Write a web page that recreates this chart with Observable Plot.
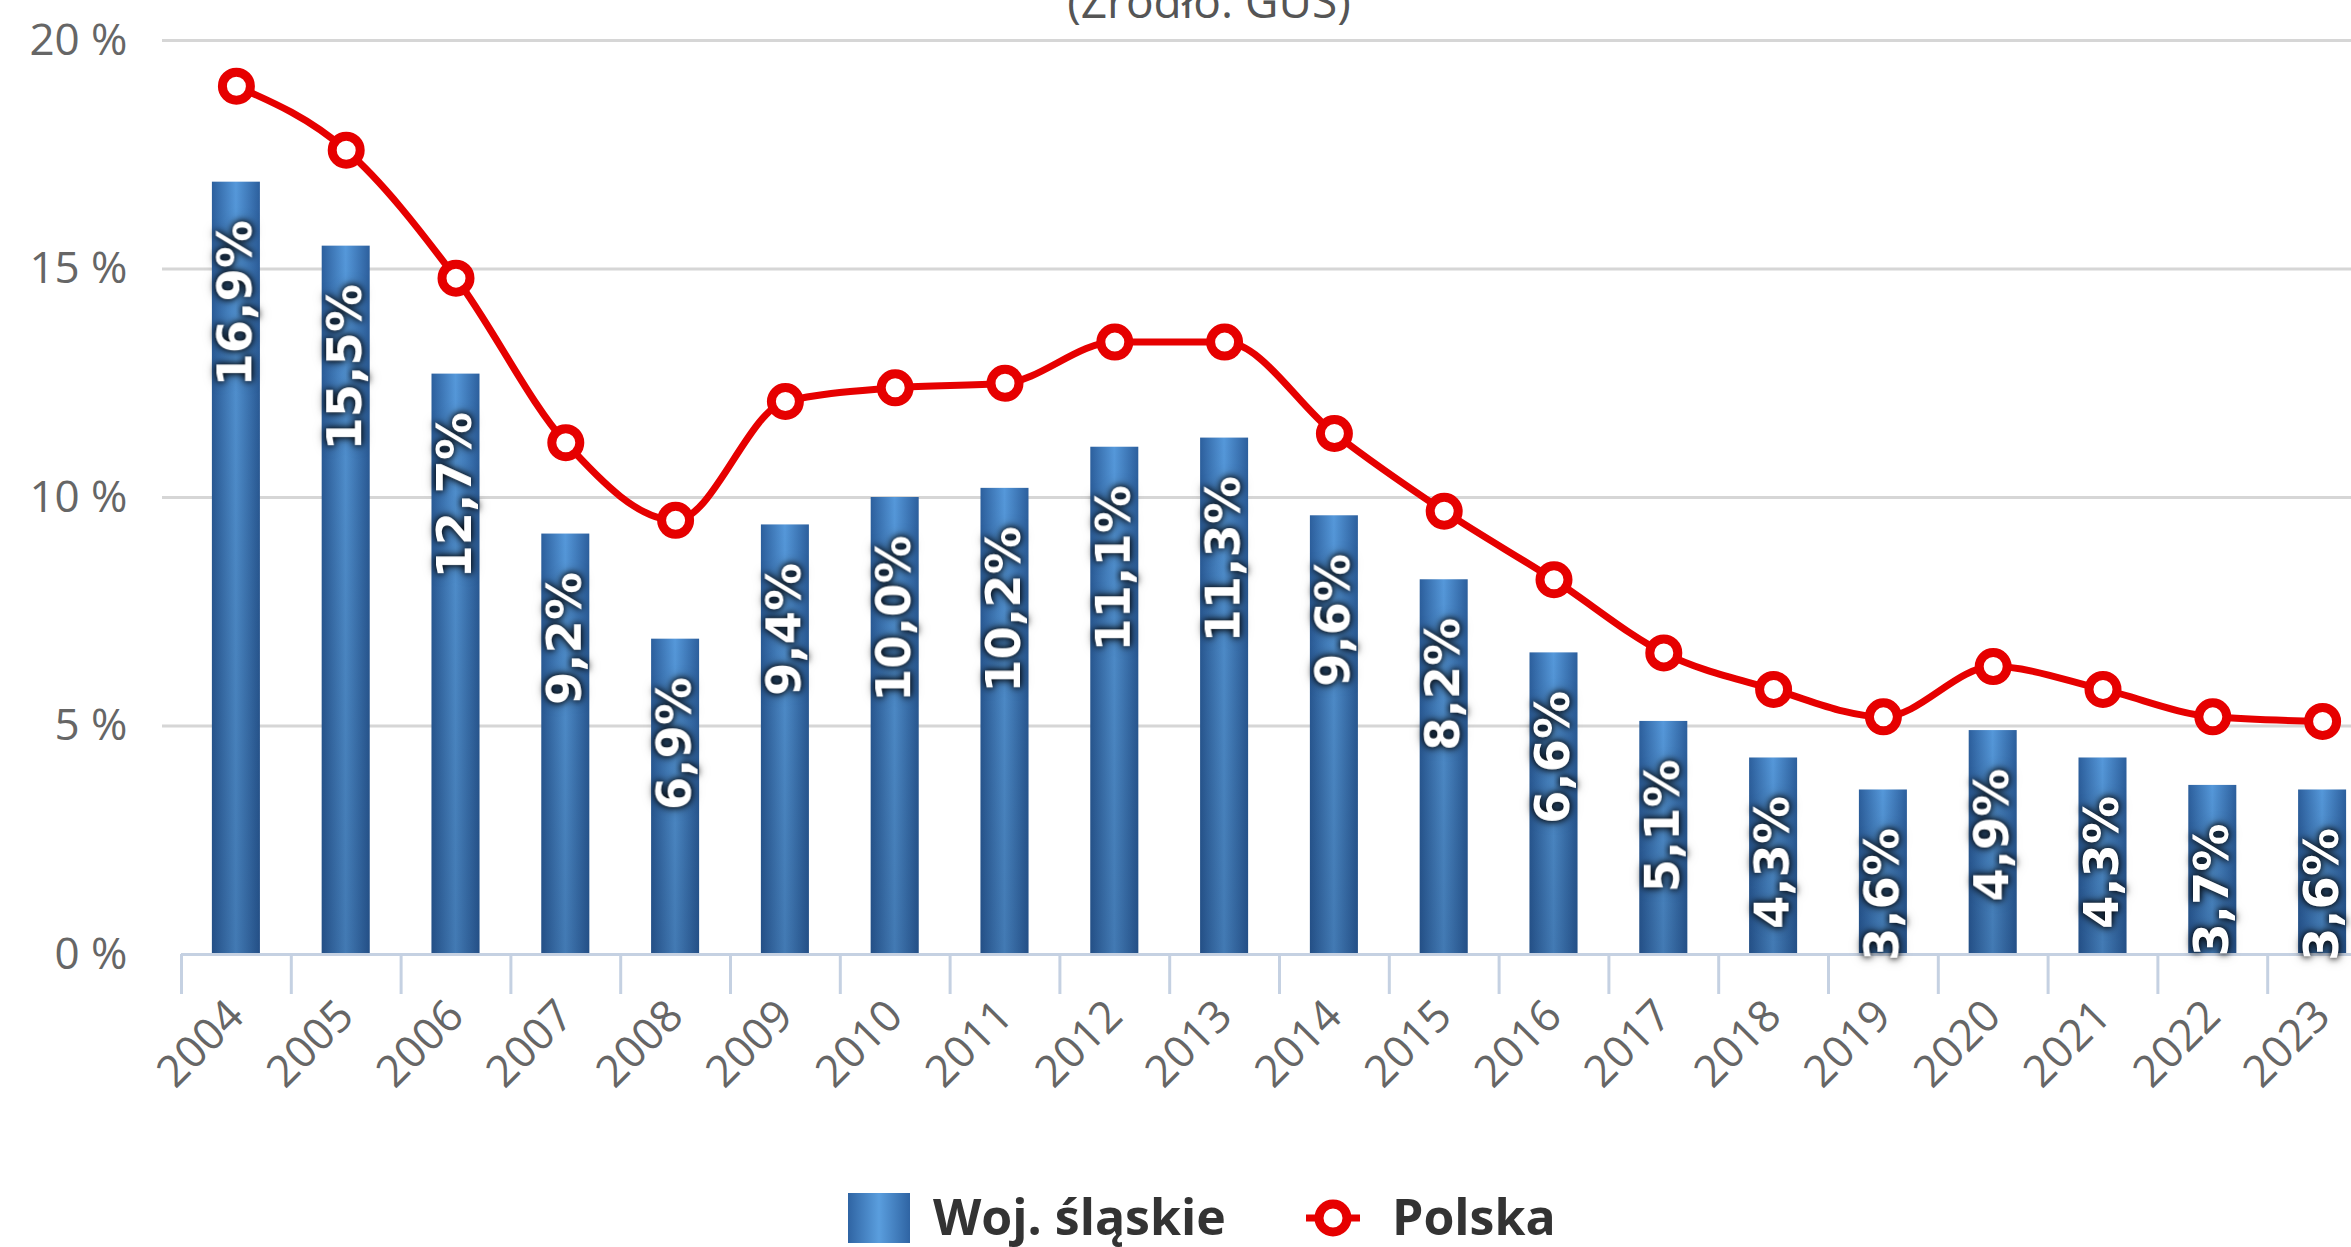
<!DOCTYPE html>
<html><head><meta charset="utf-8">
<script src="https://cdn.jsdelivr.net/npm/d3@7"></script>
<script src="https://cdn.jsdelivr.net/npm/@observablehq/plot@0.6"></script>
<style>
html,body{margin:0;padding:0;background:#fff;overflow:hidden;width:2351px;height:1247px;}
#wrap{position:relative;width:2351px;height:1247px;overflow:hidden;}
#sub{position:absolute;left:609px;width:1200px;top:-23px;text-align:center;font-family:"Open Sans",sans-serif;font-size:46px;line-height:46px;color:#555;}
#chart{position:absolute;left:0;top:0;width:2400px;}
.lg{position:absolute;font-family:"Open Sans",sans-serif;font-weight:bold;font-size:50px;line-height:50px;color:#333;}
#sq{position:absolute;left:848px;top:1193px;width:62px;height:50px;background:linear-gradient(90deg,#2f64a3 0%,#5a9ede 50%,#2f64a3 100%);}
</style></head>
<body><div id="wrap">
<div id="sub">(Źródło: GUS)</div>
<div id="chart"></div>
<div id="sq"></div>
<div class="lg" style="left:933px;top:1191px;">Woj. śląskie</div>
<svg style="position:absolute;left:1302px;top:1196px;" width="62" height="44"><line x1="4" y1="22" x2="58" y2="22" stroke="#e60000" stroke-width="7"/><circle cx="31" cy="22" r="14" fill="#fff" stroke="#e60000" stroke-width="9"/></svg>
<div class="lg" style="left:1392px;top:1191px;">Polska</div>
</div>
<script>
const years = ["2004","2005","2006","2007","2008","2009","2010","2011","2012","2013","2014","2015","2016","2017","2018","2019","2020","2021","2022","2023"];
const slaskie = [16.9, 15.5, 12.7, 9.2, 6.9, 9.4, 10.0, 10.2, 11.1, 11.3, 9.6, 8.2, 6.6, 5.1, 4.3, 3.6, 4.9, 4.3, 3.7, 3.6];
const polska = [19.0, 17.6, 14.8, 11.2, 9.5, 12.1, 12.4, 12.5, 13.4, 13.4, 11.4, 9.7, 8.2, 6.6, 5.8, 5.2, 6.3, 5.8, 5.2, 5.1];
const yTicks = [0, 5, 10, 15, 20];

const barData = years.map((y, i) => ({year: y, v: slaskie[i]}));
const lineData = years.map((y, i) => ({year: y, v: polska[i]}));

const W = 2400, H = 1130, mL = 181, mR = 23, mT = 40, mB = 176;
const step = (W - mL - mR) / years.length;
const barW = 48;
const inset = (step - barW) / 2;
const fmt = v => v.toFixed(1).replace(".", ",") + "%";

const plot = Plot.plot({
  width: W, height: H,
  marginLeft: mL, marginRight: mR, marginTop: mT, marginBottom: mB,
  style: {fontFamily: "Open Sans", color: "#666", background: "transparent", overflow: "visible", maxWidth: "none", width: W + "px", height: H + "px"},
  x: {domain: years, padding: 0, round: false, axis: null},
  y: {domain: [0, 20], axis: null},
  marks: [
    Plot.ruleY(yTicks.filter(d => d > 0), {stroke: "#d6d6d6", strokeWidth: 3, insetLeft: -19}),
    Plot.ruleX(years, {x: d => d, dx: -step / 2, stroke: "#c5d1e2", strokeWidth: 3, insetTop: H - mT - mB, insetBottom: -40}),
    Plot.barY(barData, {x: "year", y: "v", fill: "url(#barGrad)", insetLeft: inset, insetRight: inset}),
    Plot.barY(barData, {x: "year", y: "v", fill: "url(#barShade)", insetLeft: inset, insetRight: inset}),
    Plot.ruleY([0], {stroke: "#c5d1e2", strokeWidth: 3}),
    Plot.axisY(yTicks, {tickSize: 0, tickPadding: 54, fontSize: 44, label: null, tickFormat: d => d + " %"}),
    Plot.axisX({tickRotate: -45, tickSize: 0, tickPadding: 54, fontSize: 44, label: null}),
    Plot.line(lineData, {x: "year", y: "v", stroke: "#e60000", strokeWidth: 7, curve: "monotone-x"}),
    Plot.dot(lineData, {x: "year", y: "v", r: 14, fill: "white", stroke: "#e60000", strokeWidth: 9}),
    Plot.text(barData, {x: "year", y: "v", text: d => fmt(d.v), rotate: -90, textAnchor: "end", dy: 38,
      fill: "white", fontWeight: "bold", fontSize: 48, fontFamily: "DejaVu Sans"})
  ]
});

const svg = d3.select(plot);
const defs = svg.insert("defs", ":first-child");
const g1 = defs.append("linearGradient").attr("id", "barGrad").attr("x1", 0).attr("x2", 1).attr("y1", 0).attr("y2", 0);
g1.append("stop").attr("offset", "0%").attr("stop-color", "#2c5f9d");
g1.append("stop").attr("offset", "50%").attr("stop-color", "#5598da");
g1.append("stop").attr("offset", "100%").attr("stop-color", "#2c5f9d");
const g2 = defs.append("linearGradient").attr("id", "barShade").attr("x1", 0).attr("x2", 0).attr("y1", 0).attr("y2", 1);
g2.append("stop").attr("offset", "0%").attr("stop-color", "#000").attr("stop-opacity", 0);
g2.append("stop").attr("offset", "100%").attr("stop-color", "#0a1f40").attr("stop-opacity", 0.25);
svg.selectAll('g[aria-label="text"]').style("filter", "drop-shadow(0 0 3px rgba(0,0,0,0.95)) drop-shadow(0 0 5px rgba(0,0,0,0.6))");

document.getElementById("chart").appendChild(plot);
</script>
</body></html>
